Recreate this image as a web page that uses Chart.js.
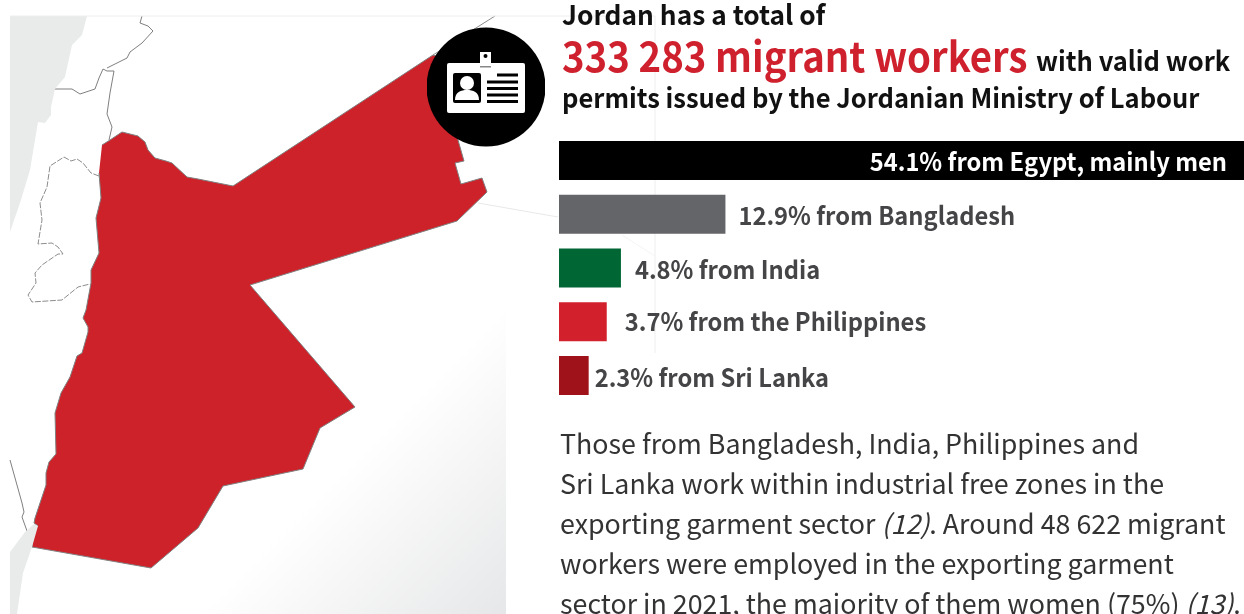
<!DOCTYPE html>
<html>
<head>
<meta charset="utf-8">
<title>Migrant workers in Jordan</title>
<script src="https://cdn.jsdelivr.net/npm/chart.js@4/dist/chart.umd.min.js"></script>
<style>
  html, body { margin: 0; padding: 0; width: 1244px; height: 614px; overflow: hidden; background: #fff; }
  body { position: relative; font-family: "Noto Sans CJK SC", "Open Sans", sans-serif; }
  .shade { position: absolute; left: 10px; top: 16px; width: 496px; height: 598px;
           background: linear-gradient(135deg, #fff 0%, #fff 72%, #e6e7e8 100%); }
  #mapWrap { position: absolute; left: 0; top: 0; width: 1244px; height: 614px; }
  #barWrap { position: absolute; left: 559px; top: 133px; width: 698px; height: 270px; }
  #badge { position: absolute; left: 427px; top: 27px; }
  .line { position: absolute; left: 562px; white-space: nowrap; transform-origin: 0 50%; }
  .head { font-weight: 700; font-size: 27px; color: #111; line-height: 34px; }
  .big { position: absolute; font-size: 41px; font-weight: 700; color: #cf202e; }
  .body { left: 560px; font-size: 26.8px; color: #333; line-height: 40px; }
</style>
</head>
<body>
<div class="shade"></div>
<div id="mapWrap"><canvas id="mapChart"></canvas></div>
<svg id="badge" width="118" height="120" viewBox="427 27 118 120">
  <circle cx="486" cy="87" r="59.5" fill="#000"/>
  <rect x="447" y="63" width="78" height="50" rx="2" fill="#fff"/>
  <rect x="480" y="52" width="11" height="15" fill="#fff"/>
  <rect x="480" y="66" width="11" height="1.5" fill="#888"/>
  <circle cx="485.5" cy="56" r="2" fill="#000"/>
  <rect x="453" y="73" width="28" height="30" rx="2" fill="#000"/>
  <circle cx="467" cy="83" r="7" fill="#fff"/>
  <path d="M455 100 C455 92 461 90 467 90 C473 90 479 92 479 100 Z" fill="#fff"/>
  <rect x="497" y="73.500" width="21" height="3" fill="#000"/>
  <rect x="487" y="80.500" width="31" height="3" fill="#000"/>
  <rect x="487" y="87" width="31" height="3" fill="#000"/>
  <rect x="487" y="93.500" width="31" height="3" fill="#000"/>
  <rect x="487" y="100" width="31" height="3" fill="#000"/>
</svg>
<div id="barWrap"><canvas id="barChart"></canvas></div>

<div class="line head" style="top:-3px;transform:scaleX(.974)">Jordan has a total of</div>
<div class="line big" style="top:24px;transform:scaleX(.935)">333 283 migrant workers</div>
<div class="line head" style="left:1036px;top:43px;transform:scaleX(.945)">with valid work</div>
<div class="line head" style="top:80px;transform:scaleX(.945)">permits issued by the Jordanian Ministry of Labour</div>

<div class="line body" style="top:423px">Those from Bangladesh, India, Philippines and</div>
<div class="line body" style="top:463px">Sri Lanka work within industrial free zones in the</div>
<div class="line body" style="top:503px">exporting garment sector <i>(12)</i>. Around 48 622 migrant</div>
<div class="line body" style="top:543px">workers were employed in the exporting garment</div>
<div class="line body" style="top:583px">sector in 2021, the majority of them women (75%) <i>(13)</i>.</div>

<script>
// bar data
const countries = ['Egypt', 'Bangladesh', 'India', 'Philippines', 'Sri Lanka'];
const shares = [54.1, 12.9, 4.8, 3.7, 2.3];
const shareLabels = [
  '54.1% from Egypt, mainly men',
  '12.9% from Bangladesh',
  '4.8% from India',
  '3.7% from the Philippines',
  '2.3% from Sri Lanka'
];

// map outlines
const jordanOutline = [
  [102,145],[110,140],[122,132],[138,136],[145,142],[148,150],[155,158],[166,161],[172,163],[187,177],
  [198,179],[233,186],[433,55],[450,60],[458,140],[464,161],[455,163],[461,184],[482,178],[487,192],
  [457,221],[250,285],[355,407],[320,428],[303,469],[223,486],[198,528],[151,568],[32,547],[34,530],
  [38,526],[34,523],[35,518],[46,485],[46,473],[49,462],[56,454],[55,413],[61,393],[70,377],
  [77,356],[82,353],[88,332],[88,327],[83,318],[86,310],[91,283],[91,270],[99,253],[96,218],
  [101,198],[99,173]
];
const medSea = [
  [10,16],[87,16],[82,35],[72,45],[65,77],[55,89],[51,107],[51,115],[45,123],[38,122],[30,170],[20,203],[10,232]
];
const redSea = [[34,524],[38,526],[32,547],[23,573],[17,614],[10,614],[10,552],[25,532]];
const topFrame = [[10,16],[655,16]];
const syriaLine = [[142,16],[140,23],[148,26],[153,31],[142,43],[130,52],[127,58],[107,68]];
const israelLine = [
  [54,89],[72,89],[80,94],[95,89],[99,78],[103,69],[107,71],[114,71],[110,93],[107,114],[112,127],[109,140]
];
const westBank = [
  [99,176],[91,173],[83,163],[77,159],[71,161],[64,157],[50,166],[47,187],[40,203],[42,220],[38,244],
  [52,243],[58,247],[63,254],[58,254],[42,265],[35,273],[36,283],[28,295],[32,302],[62,300],[78,287],[90,284]
];
const sinaiLine = [[10,460],[22,503],[24,512],[22,517],[27,531]];
const iraqLine = [[433,55],[495,16]];
const saudiLine = [[478,203],[558,217]];
const saudiLineFar = [[622,235],[655,256]];
const frameRight = [[655,16],[655,353]];

const barColors = ['#000000', '#646569', '#006633', '#d2202c', '#a0121a'];
const labelColors = ['#ffffff', '#454547', '#454547', '#454547', '#454547'];
const labelGaps = [0, 13, 14, 18, 6];
const labelLifts = [1, 1.500, 1.500, 0, 1.500];
const labelSqueeze = 0.948;

const pts = arr => arr.map(p => ({ x: p[0], y: p[1] }));

function area(arr, color, stroke) {
  return { data: pts(arr), showLine: true, fill: 'shape', backgroundColor: color,
           borderColor: stroke || color, borderWidth: stroke ? 1 : 0, pointRadius: 0, tension: 0 };
}
function border(arr, color, width, dash) {
  return { data: pts(arr), showLine: true, fill: false, borderColor: color,
           borderWidth: width, borderDash: dash || [], pointRadius: 0, tension: 0 };
}

new Chart(document.getElementById('mapChart'), {
  type: 'scatter',
  data: {
    datasets: [
      border(topFrame, '#eeeeee', 1),
      border(frameRight, '#f5f5f5', 1),
      border(saudiLine, '#e8e8e8', 1),
      border(saudiLineFar, '#f4f4f4', 1),
      border(iraqLine, '#8a8a8a', 1),
      area(medSea, '#e9ebeb'),
      area(redSea, '#e9ebeb'),
      border(syriaLine, '#7f7f7f', 1),
      border(israelLine, '#7f7f7f', 1),
      border(sinaiLine, '#7f7f7f', 1),
      border(westBank, '#8c8c8c', 1, [6, 1.5]),
      area(jordanOutline, '#cd2229', '#808080')
    ]
  },
  options: {
    responsive: true, maintainAspectRatio: false, animation: false,
    layout: { padding: 0 },
    plugins: { legend: { display: false }, tooltip: { enabled: false } },
    scales: {
      x: { type: 'linear', display: false, min: 0, max: 1244 },
      y: { type: 'linear', display: false, min: 0, max: 614, reverse: true }
    }
  }
});

const barLabels = {
  id: 'barLabels',
  afterDatasetsDraw(chart) {
    const ctx = chart.ctx;
    const meta = chart.getDatasetMeta(0);
    ctx.font = '700 25px "Noto Sans CJK SC", "Open Sans", sans-serif';
    ctx.textBaseline = 'middle';
    meta.data.forEach((bar, i) => {
      ctx.save();
      ctx.fillStyle = labelColors[i];
      // first label sits inside its bar, right aligned
      const x = i === 0 ? 668 : bar.x + labelGaps[i];
      ctx.textAlign = i === 0 ? 'right' : 'left';
      ctx.translate(x, bar.y + labelLifts[i]);
      ctx.scale(labelSqueeze, 1);
      ctx.fillText(shareLabels[i], 0, 0);
      ctx.restore();
    });
  }
};

new Chart(document.getElementById('barChart'), {
  type: 'bar',
  data: {
    labels: countries,
    datasets: [{ data: shares, backgroundColor: barColors, borderWidth: 0, barThickness: 39, inflateAmount: 0 }]
  },
  options: {
    indexAxis: 'y',
    responsive: true, maintainAspectRatio: false, animation: false,
    layout: { padding: { top: 0.625, bottom: 0.625 } },
    plugins: { legend: { display: false }, tooltip: { enabled: false } },
    scales: {
      x: { display: false, min: 0, max: 54.1 },
      y: { display: false }
    }
  },
  plugins: [barLabels]
});
</script>
</body>
</html>
